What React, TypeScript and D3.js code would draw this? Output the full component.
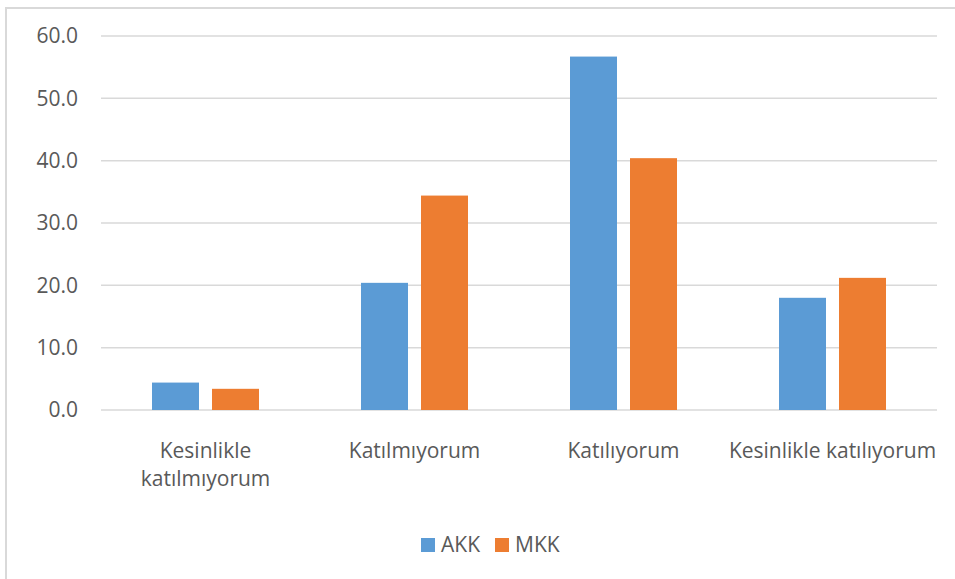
import React from "react";
import * as d3 from "d3";

const categories: string[][] = [
  ["Kesinlikle", "katılmıyorum"],
  ["Katılmıyorum"],
  ["Katılıyorum"],
  ["Kesinlikle katılıyorum"],
];
const seriesNames = ["AKK", "MKK"];
const akkValues = [4.4, 20.4, 56.7, 18.0];
const mkkValues = [3.4, 34.4, 40.4, 21.2];
const yTicks = [0, 10, 20, 30, 40, 50, 60];
const colors = ["#5B9BD5", "#ED7D31"];

const W = 955;
const H = 579;
const FONT = "'Open Sans', sans-serif";

export default function App() {
  const catKeys = categories.map((c) => c.join(" "));
  const x = d3.scaleBand<string>().domain(catKeys).range([101, 937]).padding(0);
  const y = d3.scaleLinear().domain([0, 60]).range([410, 36]);
  const inner = d3
    .scaleBand<string>()
    .domain(seriesNames)
    .range([-53.5, 53.5])
    .paddingInner(13 / 60)
    .paddingOuter(0);
  const series = [akkValues, mkkValues];
  const fmt = d3.format(".1f");

  return (
    <svg
      width={W}
      height={H}
      style={{ position: "absolute", left: 0, top: 0, background: "#fff" }}
      fontFamily={FONT}
    >
      <rect x={0} y={0} width={W} height={H} fill="#fff" />
      {/* chart border (left/top visible) */}
      <line x1={6} x2={6} y1={7} y2={H} stroke="#d9d9d9" strokeWidth={2} />
      <line x1={6} x2={W} y1={8} y2={8} stroke="#d9d9d9" strokeWidth={2} />
      {yTicks.map((t) => (
        <g key={t}>
          <line
            x1={101}
            x2={937}
            y1={y(t)}
            y2={y(t)}
            stroke="#d9d9d9"
            strokeWidth={1.5}
          />
          <text
            x={78}
            y={y(t)}
            dy="0.35em"
            textAnchor="end"
            fontSize={21}
            fill="#595959"
          >
            {fmt(t)}
          </text>
        </g>
      ))}
      {series.map((vals, si) =>
        vals.map((v, ci) => {
          const cx = (x(catKeys[ci]) ?? 0) + x.bandwidth() / 2;
          const bx = cx + (inner(seriesNames[si]) ?? 0);
          return (
            <rect
              key={`${si}-${ci}`}
              x={bx}
              y={y(v)}
              width={inner.bandwidth()}
              height={y(0) - y(v)}
              fill={colors[si]}
            />
          );
        })
      )}
      {categories.map((lines, ci) => {
        const cx = (x(catKeys[ci]) ?? 0) + x.bandwidth() / 2;
        return (
          <text key={ci} textAnchor="middle" fontSize={21} fill="#595959">
            {lines.map((l, li) => (
              <tspan key={li} x={cx} y={458 + li * 28}>
                {l}
              </tspan>
            ))}
          </text>
        );
      })}
      {seriesNames.map((s, si) => {
        const lx = [421, 495][si];
        return (
          <g key={s}>
            <rect x={lx} y={538} width={14} height={14} fill={colors[si]} />
            <text x={lx + 20} y={552} fontSize={21} fill="#595959">
              {s}
            </text>
          </g>
        );
      })}
    </svg>
  );
}
